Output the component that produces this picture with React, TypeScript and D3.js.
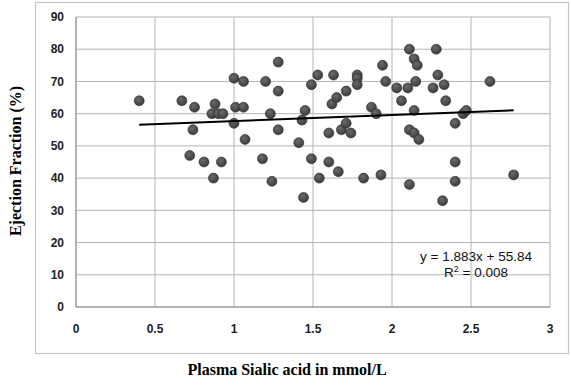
import React from "react";
import * as d3 from "d3";

const xValues = [0.40,0.67,0.75,0.74,0.72,0.81,0.88,0.86,0.90,0.93,0.92,0.87,1.00,1.06,1.01,1.06,1.00,1.07,1.20,1.28,1.28,1.23,1.28,1.18,1.24,1.41,1.45,1.43,1.49,1.54,1.44,1.49,1.53,1.63,1.62,1.65,1.71,1.78,1.78,1.78,1.60,1.68,1.71,1.74,1.60,1.66,1.82,1.93,1.94,1.96,1.87,1.90,2.03,2.10,2.15,2.06,2.14,2.11,2.14,2.16,2.11,2.14,2.17,2.11,2.28,2.29,2.26,2.33,2.34,2.40,2.45,2.47,2.40,2.40,2.32,2.62,2.77];
const yValues = [64,64,62,55,47,45,63,60,60,60,45,40,71,70,62,62,57,52,70,76,67,60,55,46,39,51,61,58,46,40,34,69,72,72,63,65,67,72,71,69,54,55,57,54,45,42,40,41,75,70,62,60,68,68,70,64,61,80,77,75,55,54,52,38,80,72,68,69,64,57,60,61,45,39,33,70,41];
const xTicks = [0, 0.5, 1, 1.5, 2, 2.5, 3];
const yTicks = [0, 10, 20, 30, 40, 50, 60, 70, 80, 90];
const slope = 1.883;
const intercept = 55.84;
const trendRange = [0.40, 2.77];
const equationLabel = "y = 1.883x + 55.84";
const r2Value = "0.008";
const xTitle = "Plasma Sialic acid in mmol/L";
const yTitle = "Ejection Fraction (%)";

export default function App() {
  const x = d3.scaleLinear().domain([0, 3]).range([76, 550]);
  const y = d3.scaleLinear().domain([0, 90]).range([307, 17]);
  const line = d3.line<number>().x((d) => x(d)).y((d) => y(slope * d + intercept));
  const tickFont = "'Liberation Sans', Arial, sans-serif";
  const serif = "'Liberation Serif', 'Times New Roman', serif";
  return (
    <div style={{ position: "fixed", left: 0, top: 0 }}>
      <svg width={571} height={385} style={{ display: "block", background: "#fff" }}>
        <defs>
          <radialGradient id="dot" cx="40%" cy="35%" r="65%">
            <stop offset="0%" stopColor="#6a6a6a" />
            <stop offset="100%" stopColor="#3c3c3c" />
          </radialGradient>
        </defs>
        <rect x={35.5} y={2.5} width={533} height={351} fill="#fff" stroke="#c4c4c4" strokeWidth={1.2} />
        {xTicks.map((t) => (
          <line key={"gx" + t} x1={x(t)} x2={x(t)} y1={y(90)} y2={y(0)} stroke="#b4b4b4" strokeWidth={1} />
        ))}
        {yTicks.map((t) => (
          <line key={"gy" + t} x1={x(0)} x2={x(3)} y1={y(t)} y2={y(t)} stroke="#b4b4b4" strokeWidth={1} />
        ))}
        <line x1={x(0)} x2={x(3)} y1={y(0)} y2={y(0)} stroke="#8c8c8c" strokeWidth={1} />
        <line x1={x(0)} x2={x(0)} y1={y(0)} y2={y(90)} stroke="#8c8c8c" strokeWidth={1} />
        {yTicks.map((t) => (
          <text key={"ty" + t} x={64} y={y(t)} dy="0.35em" textAnchor="end" fontFamily={tickFont} fontWeight="bold" fontSize={12} fill="#222">
            {t}
          </text>
        ))}
        {xTicks.map((t) => (
          <text key={"tx" + t} x={x(t)} y={329} dy="0.35em" textAnchor="middle" fontFamily={tickFont} fontWeight="bold" fontSize={12} fill="#222">
            {t}
          </text>
        ))}
        {xValues.map((v, i) => (
          <circle key={i} cx={x(v)} cy={y(yValues[i])} r={5} fill="url(#dot)" stroke="#2e2e2e" strokeWidth={0.6} />
        ))}
        <path d={line(trendRange) || ""} stroke="#000" strokeWidth={2} fill="none" />
        <text x={476} y={256} dy="0.35em" textAnchor="middle" fontFamily={tickFont} fontSize={13.5} fill="#111">
          {equationLabel}
        </text>
        <text x={476} y={272} dy="0.35em" textAnchor="middle" fontFamily={tickFont} fontSize={13.5} fill="#111">
          R<tspan dy="-5" fontSize={9}>2</tspan><tspan dy="5"> = {r2Value}</tspan>
        </text>
        <text x={287} y={375} textAnchor="middle" fontFamily={serif} fontWeight="bold" fontSize={16} fill="#000">
          {xTitle}
        </text>
        <text transform={`translate(21,161) rotate(-90)`} textAnchor="middle" fontFamily={serif} fontWeight="bold" fontSize={16} fill="#000">
          {yTitle}
        </text>
      </svg>
    </div>
  );
}
